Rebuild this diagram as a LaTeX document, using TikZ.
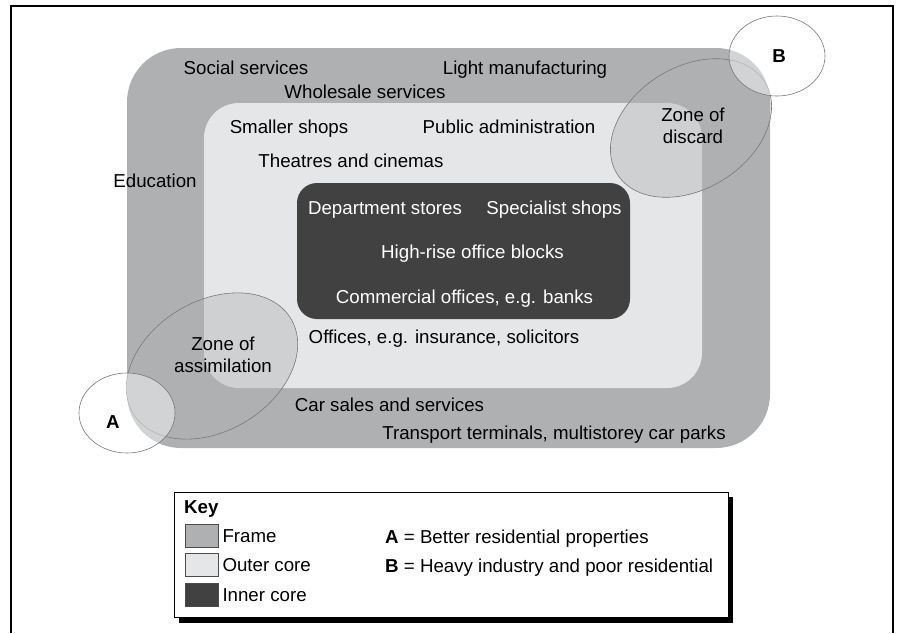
\documentclass[tikz,border=0pt]{standalone}
\usepackage{fontspec}
\setmainfont{Liberation Sans}
\usetikzlibrary{positioning}
\definecolor{framegray}{RGB}{174,176,178}
\definecolor{outergray}{RGB}{229,230,231}
\definecolor{innergray}{RGB}{65,65,65}
\definecolor{edgegray}{RGB}{120,120,120}

\begin{document}
\begin{tikzpicture}[x=1pt,y=-1pt,font=\fontsize{18.7}{22.5}\selectfont]
\tikzstyle{lbl}=[anchor=base, inner sep=0pt]
\tikzstyle{twoline}=[align=center, inner sep=0pt]
\tikzstyle{zone}=[draw=edgegray, line width=0.6pt, fill=framegray, fill opacity=0.4]
\tikzstyle{outside}=[draw=edgegray, line width=0.6pt, fill=white, fill opacity=0.45]
\tikzstyle{swatch}=[rectangle, draw=black!70, line width=0.6pt, minimum width=33pt, minimum height=23pt, inner sep=0pt]
\tikzstyle{keytext}=[inner sep=0pt, text height=13.4pt, text depth=0pt]
\useasboundingbox (0,0) rectangle (898,633);
% page frame, open at the foot
\draw[line width=2pt] (11,633) -- (11,6) -- (893,6) -- (893,633);
% frame, outer core, inner core
\fill[framegray, rounded corners=54pt] (127,48) rectangle (770,448);
\fill[outergray, rounded corners=35pt] (204,103) rectangle (702,388);
\fill[innergray, rounded corners=20pt] (297,183) rectangle (630,319);
% zones and residential areas
\draw[zone, rotate around={31:(212,366)}] (212,366) ellipse [x radius=92, y radius=65];
\draw[zone, rotate around={32:(691,128)}] (691,128) ellipse [x radius=87, y radius=61];
\draw[outside] (127,413) ellipse [x radius=48, y radius=40];
\draw[outside] (777,56) ellipse [x radius=48, y radius=40];
% frame labels
\node[lbl] (social) at (246,74) {Social services};
\node[lbl] (light) at (525,74) {Light manufacturing};
\node[lbl] (wholesale) at (365,98) {Wholesale services};
\node[lbl] (educ) at (155,187) {Education};
\node[lbl] (cars) at (389.5,411) {Car sales and services};
\node[lbl] (transport) at (554,439) {Transport terminals, multistorey car parks};
% outer core labels
\node[lbl] (shops) at (289,133) {Smaller shops};
\node[lbl] (admin) at (509,133) {Public administration};
\node[lbl] (theatres) at (351,167) {Theatres and cinemas};
\node[lbl] (insur) at (444,343) {Offices, e.g. insurance, solicitors};
% inner core labels
\node[lbl, white] (dept) at (385,214) {Department stores};
\node[lbl, white] (special) at (554,214) {Specialist shops};
\node[lbl, white] (highrise) at (472.5,258) {High-rise office blocks};
\node[lbl, white] (banks) at (464.5,303) {Commercial offices, e.g. banks};
% zone labels
\node[twoline] (assim) at (223,355) {Zone of\\assimilation};
\node[twoline] (discard) at (693,126) {Zone of\\discard};
\node[lbl] (resa) at (113,428) {\textbf{A}};
\node[lbl] (resb) at (779,62) {\textbf{B}};
% key
\fill (179,497) rectangle (733,623);
\draw[fill=white, line width=0.8pt] (174,492) rectangle (728,617);
\node[lbl, anchor=base west] (key) at (184,513) {\textbf{Key}};
\node[swatch, fill=framegray] (swframe) at (201.5,535.5) {};
\node[swatch, fill=outergray] (swouter) [below=6pt of swframe] {};
\node[swatch, fill=innergray] (swinner) [below=6pt of swouter] {};
\node[keytext, right=4pt of swframe] (lframe) {Frame};
\node[keytext, right=4pt of swouter] (louter) {Outer core};
\node[keytext, right=4pt of swinner] (linner) {Inner core};
\node[lbl, anchor=base west] (keya) at (385,543) {\textbf{A} = Better residential properties};
\node[lbl, anchor=base west] (keyb) at (385,572) {\textbf{B} = Heavy industry and poor residential};
\end{tikzpicture}
\end{document}
